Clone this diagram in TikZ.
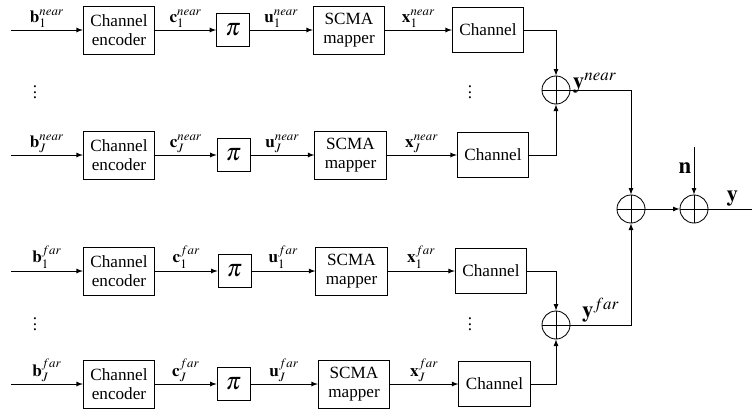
\documentclass[tikz,border=0pt]{standalone}
\usepackage{mathptmx}
\usepackage{fontspec}
\setmainfont{Liberation Serif}
\usetikzlibrary{arrows, positioning}

\newcommand{\sig}[3]{$\mathbf{#1}_{#2}^{#3}$}

\begin{document}
\begin{tikzpicture}[x=0.7pt, y=-0.7pt, >=latex, line width=0.6pt,
  block/.style={rectangle, draw, minimum width=50pt, minimum height=33.6pt, align=center, inner sep=1pt, font=\fontsize{12}{13.5}\selectfont},
  chan/.style={block, minimum height=32pt},
  perm/.style={rectangle, draw, minimum size=23pt, inner sep=0pt, font=\fontsize{17}{17}\selectfont},
  adder/.style={circle, draw, minimum size=19.6pt, inner sep=0pt, path picture={\draw (path picture bounding box.north) -- (path picture bounding box.south) (path picture bounding box.west) -- (path picture bounding box.east);}},
  lbl/.style={font=\fontsize{12}{13}\selectfont, inner sep=1.5pt},
  biglbl/.style={font=\fontsize{16}{17}\selectfont, inner sep=1.5pt}]
\useasboundingbox (0,0) rectangle (752,413);

% Near users, first user
\coordinate (in1n) at (11,30);
\node[block] (enc1n) at (119,30) {Channel\\encoder};
\node[perm] (pi1n) at (233,30) {$\pi$};
\node[block] (map1n) at (349,30) {SCMA\\mapper};
\node[chan] (ch1n) at (488,30) {Channel};

% Near users, user J
\coordinate (inJn) at (11,155);
\node[block] (encJn) at (119,155) {Channel\\encoder};
\node[perm] (piJn) at (233.5,155) {$\pi$};
\node[block] (mapJn) at (350.5,155) {SCMA\\mapper};
\node[chan] (chJn) at (493,155) {Channel};

% Far users, first user
\coordinate (in1f) at (11,271);
\node[block] (enc1f) at (119,271) {Channel\\encoder};
\node[perm] (pi1f) at (234.5,271) {$\pi$};
\node[block] (map1f) at (351.5,271) {SCMA\\mapper};
\node[chan] (ch1f) at (491,271) {Channel};

% Far users, user J
\coordinate (inJf) at (11,384);
\node[block] (encJf) at (119,384) {Channel\\encoder};
\node[perm] (piJf) at (233.5,384) {$\pi$};
\node[block] (mapJf) at (354,384) {SCMA\\mapper};
\node[chan] (chJf) at (494.5,384) {Channel};

% Dots between users
\node[lbl] (dots1) at (35,88) {$\vdots$};
\node[lbl] (dots2) at (470,88) {$\vdots$};
\node[lbl] (dots3) at (35,320) {$\vdots$};
\node[lbl] (dots4) at (470,320) {$\vdots$};

% Adders
\node[adder] (sumn) at (556,90) {};
\node[adder] (sumf) at (556,325) {};
\node[adder] (comb) at (631,209) {};
\node[adder] (noise) at (694,209) {};
\coordinate (nin) at (694,147);
\coordinate (out) at (752,209);

% Draw connections
\draw[->] (in1n) -- node[lbl, above] {\sig{b}{1}{near}} (enc1n);
\draw[->] (enc1n) -- node[lbl, above] {\sig{c}{1}{near}} (pi1n);
\draw[->] (pi1n) -- node[lbl, above] {\sig{u}{1}{near}} (map1n);
\draw[->] (map1n) -- node[lbl, above] {\sig{x}{1}{near}} (ch1n);
\draw[->] (inJn) -- node[lbl, above] {\sig{b}{J}{near}} (encJn);
\draw[->] (encJn) -- node[lbl, above] {\sig{c}{J}{near}} (piJn);
\draw[->] (piJn) -- node[lbl, above] {\sig{u}{J}{near}} (mapJn);
\draw[->] (mapJn) -- node[lbl, above] {\sig{x}{J}{near}} (chJn);
\draw[->] (in1f) -- node[lbl, above] {\sig{b}{1}{far}} (enc1f);
\draw[->] (enc1f) -- node[lbl, above] {\sig{c}{1}{far}} (pi1f);
\draw[->] (pi1f) -- node[lbl, above] {\sig{u}{1}{far}} (map1f);
\draw[->] (map1f) -- node[lbl, above] {\sig{x}{1}{far}} (ch1f);
\draw[->] (inJf) -- node[lbl, above] {\sig{b}{J}{far}} (encJf);
\draw[->] (encJf) -- node[lbl, above] {\sig{c}{J}{far}} (piJf);
\draw[->] (piJf) -- node[lbl, above] {\sig{u}{J}{far}} (mapJf);
\draw[->] (mapJf) -- node[lbl, above] {\sig{x}{J}{far}} (chJf);
\draw[->] (ch1n.east) -| (sumn);
\draw[->] (chJn.east) -| (sumn);
\draw[->] (ch1f.east) -| (sumf);
\draw[->] (chJf.east) -| (sumf);
\draw[->] (sumn) -| node[biglbl, above, pos=0.2, yshift=-4pt] {$\mathbf{y}^{near}$} (comb);
\draw[->] (sumf) -| node[biglbl, above, pos=0.25] {$\mathbf{y}^{far}$} (comb);
\draw[->] (comb) -- (noise);
\draw[->] (nin) -- node[biglbl, left, pos=0.45] {$\mathbf{n}$} (noise);
\draw (noise) -- node[biglbl, above, pos=0.55] {$\mathbf{y}$} (out);
\end{tikzpicture}
\end{document}
